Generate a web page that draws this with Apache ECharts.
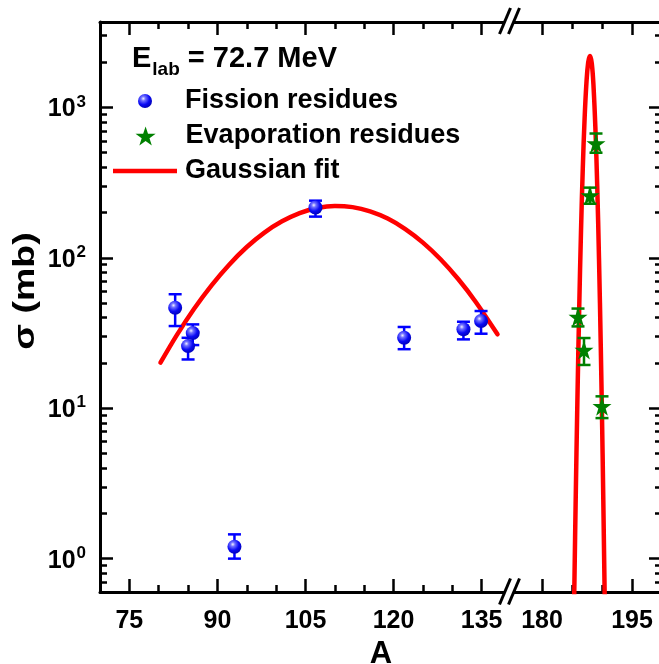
<!DOCTYPE html>
<html>
<head>
<meta charset="utf-8">
<script src="https://cdn.jsdelivr.net/npm/echarts@6/dist/echarts.min.js"></script>
<style>
html,body{margin:0;padding:0;background:#fff;}
#chart{width:659px;height:664px;}
</style>
</head>
<body>
<div id="chart"></div>
<script>
// ---------------- data ----------------
const fissionA     = [82.8, 85.0, 85.8, 92.9, 106.7, 121.8, 131.9, 134.9];
const fissionSigma = [46.6, 25.9, 31.6, 1.2, 216, 29.4, 33.5, 38];
const fissionLow   = [35.2, 21.1, 26.3, 1.0, 188, 24.7, 28.7, 31.3];
const fissionHigh  = [57.3, 29.4, 36.1, 1.45, 240, 34.7, 37.6, 44.3];

const evapA     = [186, 187, 188, 189, 190];
const evapSigma = [40.4, 24.4, 260, 575, 10.3];
const evapLow   = [35, 19.4, 229, 500, 8.6];
const evapHigh  = [46, 29.3, 293, 671, 12];

const fitLeftA     = [80.3, 83, 86, 89, 92, 95, 98, 101, 104, 107, 110, 113, 116, 119, 122, 125, 128, 131, 134, 137.7];
const fitLeftSigma = [20.1, 30.3, 45.7, 65.7, 90.1, 118, 147.2, 174.9, 198.6, 214.5, 221.3, 217.4, 203.7, 182.4, 155.3, 126.3, 97.9, 72.3, 50.9, 31.0];

const fitRightA     = [185.35, 185.6, 185.9, 186.2, 186.5, 186.8, 187.1, 187.4, 187.7, 188.0, 188.3, 188.6, 188.9, 189.2, 189.5, 189.8, 190.1, 190.45];
const fitRightSigma = [0.5, 2.25, 11.3, 45.9, 150, 396, 843, 1445, 1995, 2200, 1963, 1352, 726, 304, 99, 25.3, 5.0, 0.556];

// axes / ticks
const xLeftRange  = [70, 140];
const xRightRange = [175, 200];
const xMajorLeft  = [75, 90, 105, 120, 135];
const xMinorLeft  = [80, 85, 95, 100, 110, 115, 125, 130];
const xMajorRight = [180, 195];
const xMinorRight = [185, 190];
const yRange = [0.6, 3700];
const yMajor = [1, 10, 100, 1000];
const yMinor = [0.6, 0.7, 0.8, 0.9, 2, 3, 4, 5, 6, 7, 8, 9, 20, 30, 40, 50, 60, 70, 80, 90,
                200, 300, 400, 500, 600, 700, 800, 900, 2000, 3000];

const seriesNames = ['Fission residues', 'Evaporation residues', 'Gaussian fit'];
const energyText = ['E', 'lab', ' = 72.7 MeV'];
const xTitle = 'A';
const yTitle = 'σ (mb)';

// ---------------- styles ----------------
const FONT = '"Liberation Sans", Arial, sans-serif';
const BLUE = '#0000ff';
const GREEN = '#008000';
const RED = '#ff0000';
const sphere = {
  type: 'radial', x: 0.38, y: 0.33, r: 0.72,
  colorStops: [
    {offset: 0, color: '#f0f0ff'},
    {offset: 0.22, color: '#7070ff'},
    {offset: 0.6, color: '#0a0af5'},
    {offset: 1, color: '#0000b0'}
  ]
};
const STAR = 'path://M50,0 L61.8,35.1 L98.9,35.1 L68.9,56.8 L80.2,92.1 L50,70.3 L19.8,92.1 L31.1,56.8 L1.1,35.1 L38.2,35.1 Z';

const LG = Math.log10;
const axisLineStyle = {show: true, onZero: false, lineStyle: {color: '#000', width: 3}};

function xAx(grid, range, pos, ticks, len, labels) {
  return {
    type: 'value', gridIndex: grid, position: pos, min: range[0], max: range[1],
    axisLine: len > 10 ? axisLineStyle : {show: false, onZero: false},
    axisTick: {show: true, inside: true, length: len, customValues: ticks,
               lineStyle: {color: '#000', width: 2.5}},
    axisLabel: labels ? {show: true, customValues: labels, margin: 17,
               fontSize: 25, fontWeight: 'bold', fontFamily: FONT, color: '#000'} : {show: false},
    splitLine: {show: false}
  };
}
function yTickAx(grid, pos, ticks, len, labels) {
  return {
    type: 'value', gridIndex: grid, position: pos, min: LG(yRange[0]), max: LG(yRange[1]),
    axisLine: len > 10 ? axisLineStyle : {show: false, onZero: false},
    axisTick: {show: true, inside: true, length: len, customValues: ticks.map(LG),
               lineStyle: {color: '#000', width: 2.5}},
    axisLabel: labels ? {
      show: true, customValues: labels.map(LG), margin: 14,
      formatter: v => '{b|10}{s|' + Math.round(v) + '}',
      rich: {
        b: {fontSize: 25, fontWeight: 'bold', fontFamily: FONT, color: '#000', padding: [4, 0, 0, 0]},
        s: {fontSize: 17, fontWeight: 'bold', fontFamily: FONT, color: '#000', padding: [0, 0, 11, 1]}
      }
    } : {show: false},
    splitLine: {show: false}
  };
}
function yDataAx(grid) {
  return {type: 'log', gridIndex: grid, min: yRange[0], max: yRange[1], show: false,
          axisLine: {show: false}, axisTick: {show: false}, axisLabel: {show: false}, splitLine: {show: false}};
}

function errRender(color) {
  return function (params, api) {
    const x = api.value(0);
    const pLo = api.coord([x, api.value(1)]);
    const pHi = api.coord([x, api.value(2)]);
    const hw = 6.5;
    const st = {stroke: color, lineWidth: 2.5, fill: null};
    return {type: 'group', children: [
      {type: 'line', shape: {x1: pLo[0], y1: pLo[1], x2: pHi[0], y2: pHi[1]}, style: st},
      {type: 'line', shape: {x1: pLo[0] - hw, y1: pLo[1], x2: pLo[0] + hw, y2: pLo[1]}, style: st},
      {type: 'line', shape: {x1: pHi[0] - hw, y1: pHi[1], x2: pHi[0] + hw, y2: pHi[1]}, style: st}
    ]};
  };
}

const zip2 = (a, b) => a.map((v, i) => [v, b[i]]);
const zip3 = (a, b, c) => a.map((v, i) => [v, b[i], c[i]]);

// legend boxes start at the drawn icon, so offset symbol icons by half the unused icon width
const LEG_X = 113, LEG_W = 64;
function legendFor(name, icon, top, iconH, keep) {
  return {
    data: [{name: name, icon: icon}],
    left: LEG_X + (keep ? (LEG_W - iconH) / 2 : 0), top: top, orient: 'vertical', padding: 0,
    itemWidth: LEG_W, itemHeight: iconH, itemGap: 0, selectedMode: false, symbolKeepAspect: true,
    textStyle: {fontSize: 27, fontWeight: 'bold', fontFamily: FONT, color: '#000', padding: [0, 0, 0, 3]}
  };
}

function slash(cx, cy) {
  return {type: 'line', z: 101, shape: {x1: cx - 5.5, y1: cy + 13, x2: cx + 5.5, y2: cy - 13},
          style: {stroke: '#000', lineWidth: 3}};
}

const option = {
  animation: false,
  backgroundColor: '#fff',
  grid: [
    {left: 100, top: 22, width: 411, height: 570, containLabel: false, outerBoundsMode: 'none'},
    {left: 512, top: 22, width: 150, height: 570, containLabel: false, outerBoundsMode: 'none'}
  ],
  xAxis: [
    xAx(0, xLeftRange, 'bottom', xMajorLeft, 13, xMajorLeft),
    xAx(0, xLeftRange, 'bottom', xMinorLeft, 7, null),
    xAx(0, xLeftRange, 'top', xMajorLeft, 13, null),
    xAx(0, xLeftRange, 'top', xMinorLeft, 7, null),
    xAx(1, xRightRange, 'bottom', xMajorRight, 13, xMajorRight),
    xAx(1, xRightRange, 'bottom', xMinorRight, 7, null),
    xAx(1, xRightRange, 'top', xMajorRight, 13, null),
    xAx(1, xRightRange, 'top', xMinorRight, 7, null)
  ],
  yAxis: [
    yDataAx(0),
    yTickAx(0, 'left', yMajor, 13, yMajor),
    yTickAx(0, 'left', yMinor, 7, null),
    yDataAx(1),
    yTickAx(1, 'right', yMajor, 13, null),
    yTickAx(1, 'right', yMinor, 7, null)
  ],
  legend: [
    legendFor(seriesNames[0], 'circle', 87.5, 14, true),
    legendFor(seriesNames[1], STAR, 122.5, 19, true),
    legendFor(seriesNames[2], 'rect', 157.5, 4.5, false)
  ],
  graphic: [
    {type: 'text', left: 132, top: 44, z: 100, style: {
      text: '{e|' + energyText[0] + '}{sub|' + energyText[1] + '}{e|' + energyText[2] + '}',
      rich: {
        e: {fontSize: 29, fontWeight: 'bold', fontFamily: FONT, fill: '#000'},
        sub: {fontSize: 19, fontWeight: 'bold', fontFamily: FONT, fill: '#000', padding: [23, 0, 0, 1]}
      }
    }},
    {type: 'text', x: 26, y: 291, rotation: Math.PI / 2, scaleX: 1.25, z: 100, style: {
      text: yTitle, fontSize: 30, fontWeight: 'bold', fontFamily: FONT, fill: '#000',
      align: 'center', verticalAlign: 'middle'
    }},
    {type: 'text', x: 381, y: 654, z: 100, style: {
      text: xTitle, fontSize: 31, fontWeight: 'bold', fontFamily: FONT, fill: '#000',
      align: 'center', verticalAlign: 'middle'
    }},
    {type: 'rect', z: 100, shape: {x: 505, y: 18, width: 9, height: 8}, style: {fill: '#fff'}},
    {type: 'rect', z: 100, shape: {x: 505, y: 588, width: 9, height: 8}, style: {fill: '#fff'}},
    slash(505, 21), slash(514, 21), slash(505, 591.5), slash(514, 591.5)
  ],
  series: [
    {name: seriesNames[2], type: 'line', xAxisIndex: 0, yAxisIndex: 0, data: zip2(fitLeftA, fitLeftSigma),
     smooth: 0.3, symbol: 'none', clip: true, z: 2,
     lineStyle: {color: RED, width: 4.5, cap: 'round'}, itemStyle: {color: RED}},
    {name: seriesNames[2], type: 'line', xAxisIndex: 4, yAxisIndex: 3, data: zip2(fitRightA, fitRightSigma),
     smooth: 0.4, symbol: 'none', clip: true, z: 2,
     lineStyle: {color: RED, width: 4.5, cap: 'round'}, itemStyle: {color: RED}},
    {name: 'fission-err', type: 'custom', xAxisIndex: 0, yAxisIndex: 0, z: 3,
     renderItem: errRender(BLUE), data: zip3(fissionA, fissionLow, fissionHigh), encode: {x: 0, y: [1, 2]}},
    {name: 'evap-err', type: 'custom', xAxisIndex: 4, yAxisIndex: 3, z: 3,
     renderItem: errRender(GREEN), data: zip3(evapA, evapLow, evapHigh), encode: {x: 0, y: [1, 2]}},
    {name: seriesNames[0], type: 'scatter', xAxisIndex: 0, yAxisIndex: 0, z: 4,
     data: zip2(fissionA, fissionSigma), symbol: 'circle', symbolSize: 14,
     itemStyle: {color: sphere, opacity: 1}},
    {name: seriesNames[1], type: 'scatter', xAxisIndex: 4, yAxisIndex: 3, z: 4,
     data: zip2(evapA, evapSigma), symbol: STAR, symbolSize: 19,
     itemStyle: {color: GREEN, opacity: 1}}
  ]
};

const chart = echarts.init(document.getElementById('chart'), null, {renderer: 'canvas'});
chart.setOption(option);
</script>
</body>
</html>
